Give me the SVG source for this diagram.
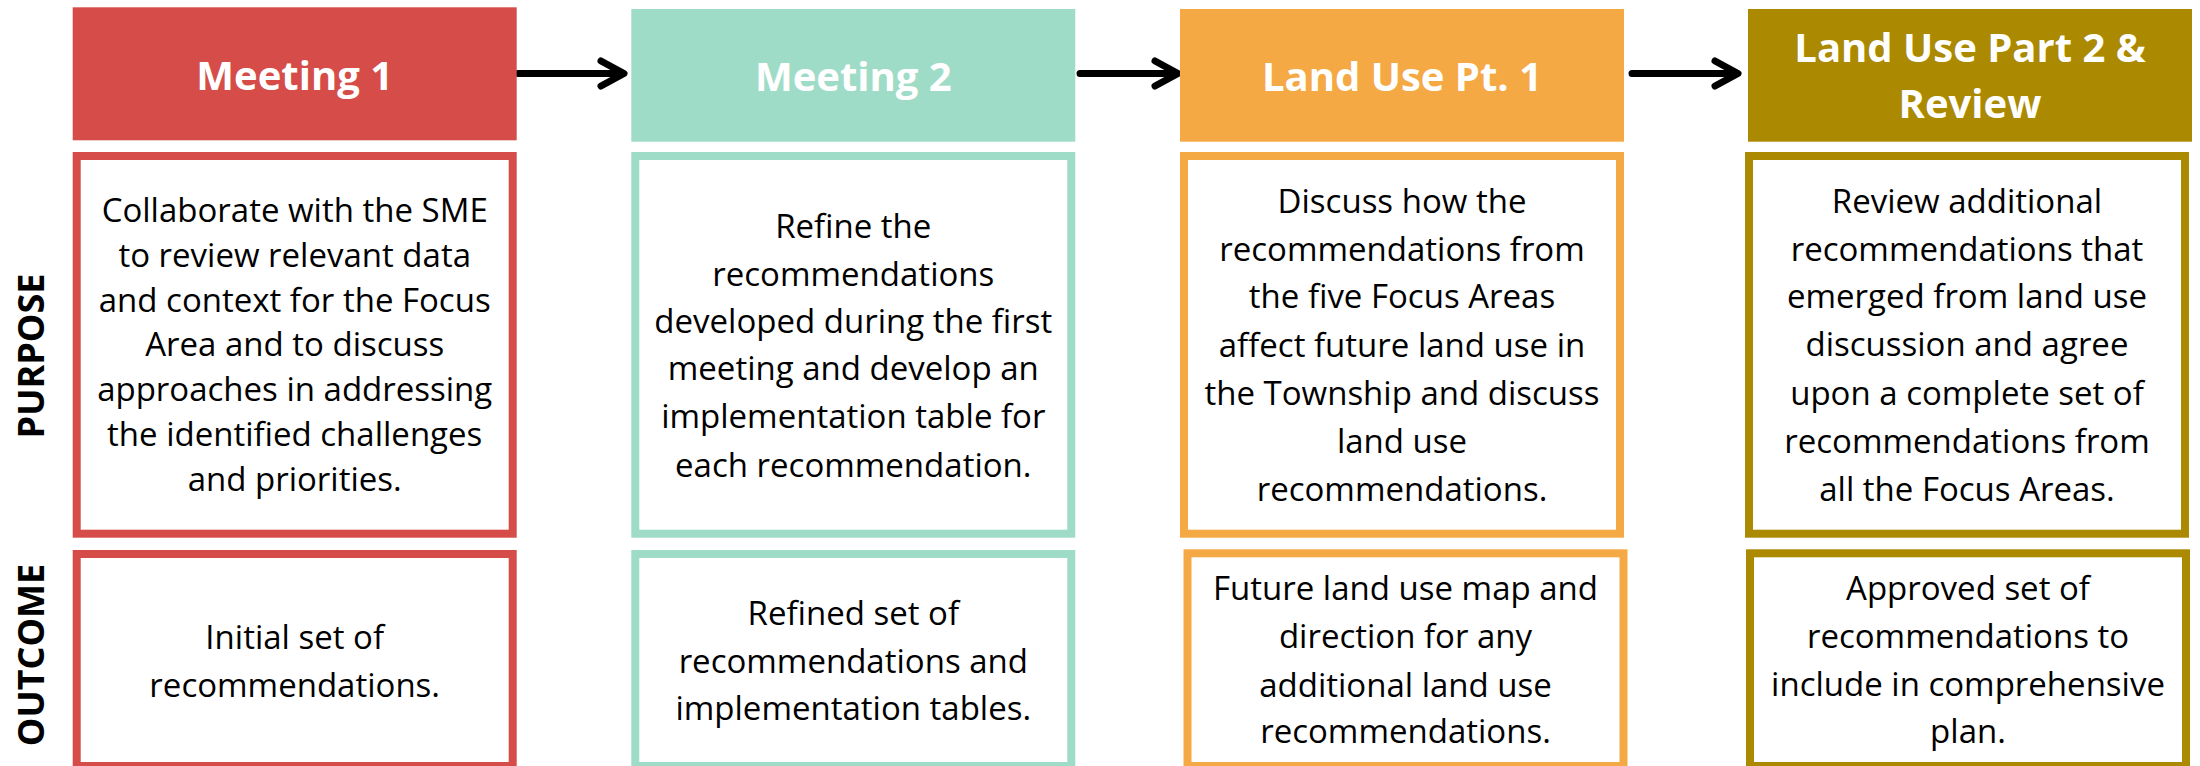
<svg xmlns="http://www.w3.org/2000/svg" width="2200" height="766" viewBox="0 0 2200 766">
<defs>
<style>
.hdr{font-family:"Open Sans","Liberation Sans",sans-serif;font-weight:bold;font-size:40px;fill:#ffffff;text-anchor:middle}
.body{font-family:"Open Sans","Liberation Sans",sans-serif;font-size:33px;fill:#000000;text-anchor:middle}
.side{font-family:"Open Sans","Liberation Sans",sans-serif;font-weight:bold;font-size:36px;fill:#000000;text-anchor:middle}
.box{fill:#ffffff;stroke-width:8}
.red{fill:#D64C48}.teal{fill:#9FDCC7}.orange{fill:#F5A944}.olive{fill:#AB8900}
.sred{stroke:#D64C48}.steal{stroke:#9FDCC7}.sorange{stroke:#F5A944}.solive{stroke:#AB8900}
.conn{stroke:#000000;stroke-width:7;fill:none;stroke-linecap:round;stroke-linejoin:round}
</style>
</defs>
<rect width="2200" height="766" fill="#ffffff"/>

<g id="labels">
<text class="side" transform="translate(44,356) rotate(-90)">PURPOSE</text>
<text class="side" transform="translate(44,655) rotate(-90)">OUTCOME</text>
</g>

<g id="connectors">
<path class="conn" d="M518,73.5 H622 M601,61 L624,73.5 L601,86"/>
<path class="conn" d="M1080,73.5 H1176 M1155,61 L1178,73.5 L1155,86"/>
<path class="conn" d="M1632,73.5 H1736 M1715,61 L1738,73.5 L1715,86"/>
</g>

<g id="meeting1">
<rect class="red" x="72.7" y="7.3" width="444" height="133"/>
<text class="hdr" x="294.7" y="90">Meeting 1</text>
<rect class="box sred" x="76.7" y="156" width="436" height="377.7"/>
<text class="body" x="294.7" y="222">Collaborate with the SME</text>
<text class="body" x="294.7" y="267">to review relevant data</text>
<text class="body" x="294.7" y="312">and context for the Focus</text>
<text class="body" x="294.7" y="356">Area and to discuss</text>
<text class="body" x="294.7" y="401">approaches in addressing</text>
<text class="body" x="294.7" y="446">the identified challenges</text>
<text class="body" x="294.7" y="491">and priorities.</text>
<rect class="box sred" x="76.7" y="554" width="436" height="212"/>
<text class="body" x="294.7" y="649">Initial set of</text>
<text class="body" x="294.7" y="697">recommendations.</text>
</g>

<g id="meeting2">
<rect class="teal" x="631.3" y="9" width="444" height="132.7"/>
<text class="hdr" x="853.3" y="91">Meeting 2</text>
<rect class="box steal" x="635.3" y="156" width="436" height="377.7"/>
<text class="body" x="853.3" y="238">Refine the</text>
<text class="body" x="853.3" y="285.7">recommendations</text>
<text class="body" x="853.3" y="333">developed during the first</text>
<text class="body" x="853.3" y="380">meeting and develop an</text>
<text class="body" x="853.3" y="428">implementation table for</text>
<text class="body" x="853.3" y="476.7">each recommendation.</text>
<rect class="box steal" x="635.3" y="554" width="436" height="212"/>
<text class="body" x="853.3" y="625">Refined set of</text>
<text class="body" x="853.3" y="673">recommendations and</text>
<text class="body" x="853.3" y="720">implementation tables.</text>
</g>

<g id="landuse1">
<rect class="orange" x="1180" y="9" width="444" height="132.7"/>
<text class="hdr" x="1402" y="91">Land Use Pt. 1</text>
<rect class="box sorange" x="1184" y="156" width="436" height="377.7"/>
<text class="body" x="1402" y="213.3">Discuss how the</text>
<text class="body" x="1402" y="260.7">recommendations from</text>
<text class="body" x="1402" y="308.3">the five Focus Areas</text>
<text class="body" x="1402" y="356.7">affect future land use in</text>
<text class="body" x="1402" y="405">the Township and discuss</text>
<text class="body" x="1402" y="453">land use</text>
<text class="body" x="1402" y="501">recommendations.</text>
<rect class="box sorange" x="1187.5" y="553.3" width="436" height="212.7"/>
<text class="body" x="1405.5" y="600">Future land use map and</text>
<text class="body" x="1405.5" y="648.3">direction for any</text>
<text class="body" x="1405.5" y="696.7">additional land use</text>
<text class="body" x="1405.5" y="743.3">recommendations.</text>
</g>

<g id="landuse2">
<rect class="olive" x="1748" y="9" width="444" height="132.7"/>
<text class="hdr" x="1970" y="62">Land Use Part 2 &amp;</text>
<text class="hdr" x="1970" y="118.3">Review</text>
<rect class="box solive" x="1749" y="156" width="436" height="377.7"/>
<text class="body" x="1967" y="213.3">Review additional</text>
<text class="body" x="1967" y="260.7">recommendations that</text>
<text class="body" x="1967" y="308.3">emerged from land use</text>
<text class="body" x="1967" y="356">discussion and agree</text>
<text class="body" x="1967" y="405">upon a complete set of</text>
<text class="body" x="1967" y="453">recommendations from</text>
<text class="body" x="1967" y="501">all the Focus Areas.</text>
<rect class="box solive" x="1750" y="553.3" width="436" height="212.7"/>
<text class="body" x="1968" y="600">Approved set of</text>
<text class="body" x="1968" y="647.7">recommendations to</text>
<text class="body" x="1968" y="696">include in comprehensive</text>
<text class="body" x="1968" y="743.3">plan.</text>
</g>
</svg>
